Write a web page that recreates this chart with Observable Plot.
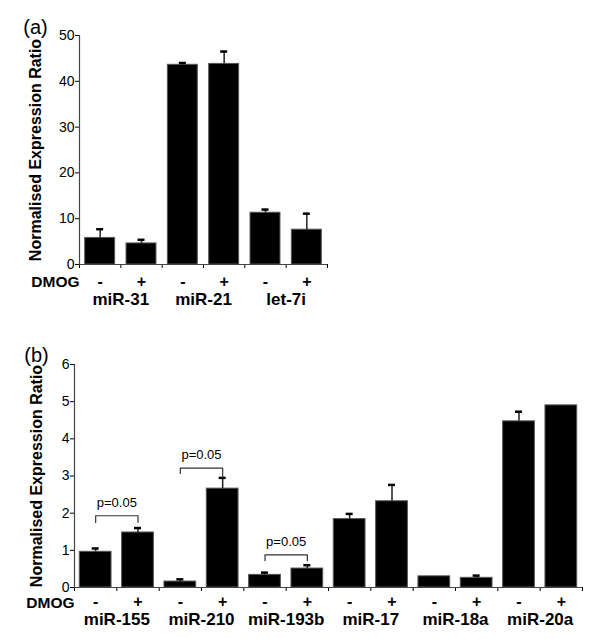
<!DOCTYPE html>
<html><head><meta charset="utf-8">
<script src="https://cdn.jsdelivr.net/npm/d3@7"></script>
<script src="https://cdn.jsdelivr.net/npm/@observablehq/plot@0.6"></script>
<style>
body{margin:0;background:#fff;}
#wrap{position:relative;width:600px;height:639px;overflow:hidden;}
#a{position:absolute;left:0;top:0;}
#b{position:absolute;left:0;top:320px;}
</style></head><body>
<div id="wrap"><div id="a"></div><div id="b"></div></div>
<script>
// ---- Panel (a) data ----
const groupsA = ["miR-31", "miR-21", "let-7i"];
const minusA = [5.8, 43.6, 11.3];
const plusA = [4.6, 43.8, 7.6];
const errMinusA = [1.9, 0.4, 0.7];
const errPlusA = [0.8, 2.7, 3.5];
const ticksA = [0, 10, 20, 30, 40, 50];

// ---- Panel (b) data ----
const groupsB = ["miR-155", "miR-210", "miR-193b", "miR-17", "miR-18a", "miR-20a"];
const minusB = [0.96, 0.16, 0.34, 1.84, 0.30, 4.47];
const plusB = [1.48, 2.66, 0.51, 2.32, 0.26, 4.90];
const errMinusB = [0.09, 0.06, 0.06, 0.14, 0, 0.26];
const errPlusB = [0.12, 0.29, 0.09, 0.44, 0.06, 0];
const ticksB = [0, 1, 2, 3, 4, 5, 6];

// significance brackets (panel b)
const pGroups = ["miR-155", "miR-210", "miR-193b"];
const pLabels = ["p=0.05", "p=0.05", "p=0.05"];
const pTop = [1.93, 3.21, 0.88];
const pLeftEnd = [1.75, 3.07, 0.72];
const pRightEnd = [1.75, 2.96, 0.72];

const treatments = ["-", "+"];
const yTitle = "Normalised Expression Ratio";
const factorName = "DMOG";

const FONT = "'Liberation Sans', Arial, Helvetica, sans-serif";

function rows(groups, minus, plus, errM, errP) {
  const out = [];
  groups.forEach((g, gi) => {
    out.push({group: g, gi, treat: treatments[0], value: minus[gi], err: errM[gi], i: 2 * gi});
    out.push({group: g, gi, treat: treatments[1], value: plus[gi], err: errP[gi], i: 2 * gi + 1});
  });
  return out;
}

function panel(o) {
  const data = o.data;
  const n = data.length;
  const withErr = data.filter(d => d.err > 0);
  return Plot.plot({
    width: o.width, height: o.height,
    marginLeft: o.mL, marginRight: o.mR, marginTop: o.mT, marginBottom: o.mB,
    style: {fontFamily: FONT, fontSize: "14px", color: "#000", background: "#fff"},
    x: {domain: [0, n], ticks: d3.range(n + 1), tickSize: 4, tickFormat: () => "", label: null},
    y: {domain: [0, o.yMax], ticks: o.ticks, tickSize: 4, tickPadding: 1, tickFormat: d => String(d), label: null},
    marks: [
      Plot.rect(data, {x1: "i", x2: d => d.i + 1, y1: 0, y2: "value", fill: "#000", stroke: "#555", strokeWidth: 1, insetLeft: o.inset, insetRight: o.inset}),
      Plot.ruleX(withErr, {x: d => d.i + 0.5, y1: "value", y2: d => d.value + d.err, stroke: "#222", strokeWidth: 1.5}),
      Plot.ruleY(withErr, {y: d => d.value + d.err, x1: d => d.i + 0.5, x2: d => d.i + 0.5, insetLeft: -3.5, insetRight: -3.5, stroke: "#000", strokeWidth: 2.5}),
      Plot.ruleX([0], {stroke: "#444", strokeWidth: 1.2}),
      Plot.ruleY([0], {stroke: "#444", strokeWidth: 1.2}),
      Plot.text(data, {x: d => d.i + 0.5, text: "treat", frameAnchor: "bottom", lineAnchor: "middle", dy: o.signDy, fontWeight: "bold", fontSize: 16}),
      Plot.text([factorName], {text: d => d, frameAnchor: "bottom-left", lineAnchor: "middle", textAnchor: "end", dx: 0, dy: o.dmogDy, fontWeight: "bold", fontSize: 15.5}),
      Plot.text(o.groups, {x: (d, gi) => 2 * gi + 1, text: d => d, frameAnchor: "bottom", lineAnchor: "middle", dy: o.groupDy, fontWeight: "bold", fontSize: 17}),
      Plot.text([yTitle], {text: d => d, frameAnchor: "left", lineAnchor: "middle", textAnchor: "middle", rotate: -90, dx: o.titleDx, fontWeight: "bold", fontSize: 16}),
      Plot.text([o.tag], {text: d => d, frameAnchor: "top-left", lineAnchor: "middle", textAnchor: "middle", dx: o.tagDx, dy: o.tagDy, fontSize: 20}),
      ...(o.extra || [])
    ]
  });
}

const dataA = rows(groupsA, minusA, plusA, errMinusA, errPlusA);
const dataB = rows(groupsB, minusB, plusB, errMinusB, errPlusB);

const bracketPts = pGroups.flatMap((g, k) => {
  const gi = groupsB.indexOf(g);
  return [
    {k, x: 2 * gi + 0.5, y: pLeftEnd[k]},
    {k, x: 2 * gi + 0.5, y: pTop[k]},
    {k, x: 2 * gi + 1.5, y: pTop[k]},
    {k, x: 2 * gi + 1.5, y: pRightEnd[k]}
  ];
});

const extraB = [
  Plot.line(bracketPts, {x: "x", y: "y", z: "k", stroke: "#333", strokeWidth: 1.2}),
  Plot.text(pGroups, {x: g => 2 * groupsB.indexOf(g) + 1, y: (g, k) => pTop[k], text: (g, k) => pLabels[k], lineAnchor: "middle", dy: -13, fontSize: 13})
];

document.getElementById("a").append(panel({
  data: dataA, groups: groupsA, ticks: ticksA, yMax: 50,
  width: 600, height: 320, mL: 79, mR: 273, mT: 35, mB: 56,
  inset: 5.7, signDy: 17.5, dmogDy: 18, groupDy: 35, titleDx: -44, tag: "(a)", tagDx: -44, tagDy: -8
}));

document.getElementById("b").append(panel({
  data: dataB, groups: groupsB, ticks: ticksB, yMax: 6,
  width: 600, height: 319, mL: 74, mR: 18, mT: 44, mB: 52,
  inset: 5.3, signDy: 14, dmogDy: 15.5, groupDy: 32.5, titleDx: -38, tag: "(b)", tagDx: -38, tagDy: -9,
  extra: extraB
}));
</script>
</body></html>
